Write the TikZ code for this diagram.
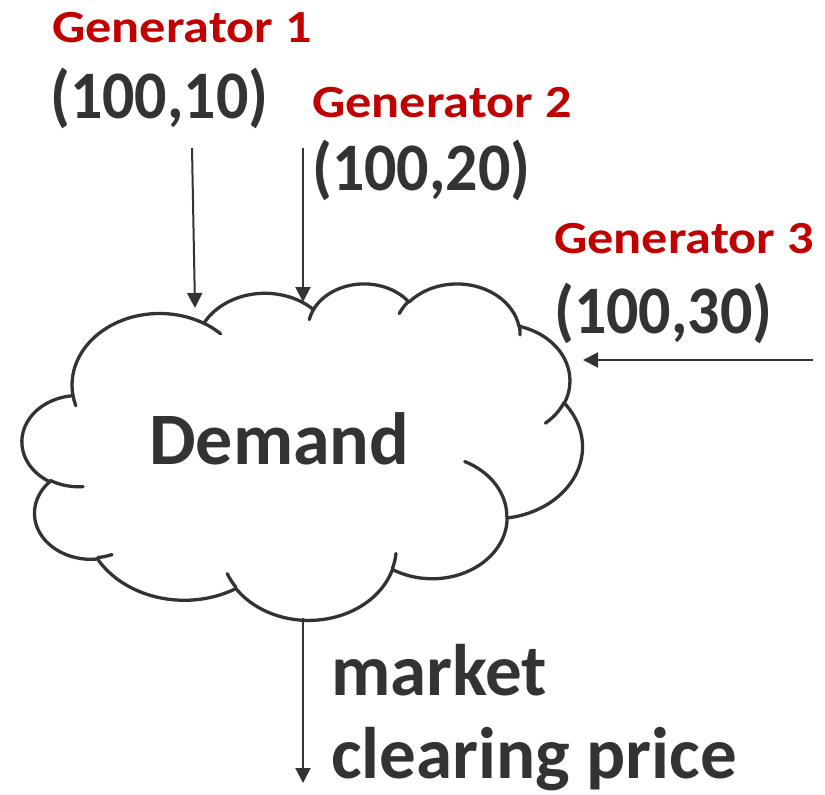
\documentclass[tikz,border=0pt]{standalone}
\usepackage{fontspec}
\usepackage{graphicx}
\setmainfont{Carlito}
\usetikzlibrary{arrows.meta}
\definecolor{genred}{HTML}{C00000}
\definecolor{inkgray}{HTML}{333333}
\pgfmathdeclarefunction{vpar}{3}{%
  \begingroup
  \pgfmathsetmacro\vpK{#2/#3}%
  \pgfmathparse{#1 + atan((\vpK-1)*sin(#1)*cos(#1)/(cos(#1)^2 + \vpK*sin(#1)^2))}%
  \pgfmathsmuggle\pgfmathresult
  \endgroup
}
\newcommand\carc[4]{arc[start angle={vpar(#3,#1,#2)}, end angle={vpar(#3+#4,#1,#2)}, x radius=#1, y radius=#2]}
\tikzset{
  genlabel/.style={anchor=base west, inner sep=0pt, text=genred, font=\fontsize{46}{55}\selectfont\bfseries},
  numlabel/.style={anchor=base west, inner sep=0pt, text=inkgray, font=\fontsize{68}{80}\selectfont\bfseries},
  biglabel/.style={anchor=base west, inner sep=0pt, text=inkgray, font=\fontsize{73}{85}\selectfont\bfseries},
  flow/.style={draw=inkgray, line width=2pt, -{Triangle[length=15pt, width=15pt]}},
  cloudline/.style={draw=inkgray, line width=3.3pt, line join=round}
}
\newcommand\gtxt[1]{\scalebox{1.137}[1]{#1}}
\newcommand\ntxt[1]{\scalebox{0.94}[1]{#1}}
\begin{document}
\begin{tikzpicture}[x=1pt, y=-1pt]
\useasboundingbox (0,0) rectangle (825,795);
% cloud
\begin{scope}[shift={(22.3,282.8)}, x=12.963pt, y=-7.787pt]
\draw[cloudline] (3.900,14.370)
  \carc{6.753}{9.190}{-190.48748}{123.78053}
  \carc{5.333}{7.267}{-144.10238}{89.94523}
  \carc{4.365}{5.945}{-145.80792}{99.72302}
  \carc{4.857}{6.595}{-130.98607}{117.24173}
  \carc{5.333}{7.273}{-78.70888}{109.02692}
  \carc{6.775}{9.220}{-46.26725}{130.269}
  \carc{5.785}{7.867}{0.62502}{114.03333}
  \carc{6.752}{9.215}{22.4516}{115.17255}
  \carc{7.720}{10.543}{66.24263}{75.71102}
  \carc{4.360}{5.918}{-274.94208}{146.73557}
  \carc{4.345}{5.945}{-246.8285}{152.51885}
  -- cycle;
\draw[cloudline, line cap=round]
  (4.693,26.177) \carc{4.345}{5.945}{86.742}{26.4295}
  (6.928,34.899) \carc{4.360}{5.918}{73.61047}{11.44747}
  (16.478,39.090) \carc{6.752}{9.215}{137.62415}{14.0811}
  (28.827,34.751) \carc{6.752}{9.215}{6.45327}{15.99835}
  (34.129,22.954) \carc{5.785}{7.867}{-70.29235}{70.91737}
  (41.798,15.354) \carc{5.333}{7.273}{30.31803}{27.7515}
  (38.324,5.426) \carc{4.857}{6.595}{-13.74433}{14.8589}
  (29.078,3.952) \carc{4.857}{6.595}{-149.18145}{18.19537}
  (22.141,4.720) \carc{4.365}{5.945}{-163.49427}{17.68635}
  (14.000,5.192) \carc{6.753}{9.190}{-66.70695}{12.31935}
  (4.127,15.789) \carc{6.753}{9.190}{157.65435}{11.85817};
\end{scope}
% labels
\node[genlabel] (g1) at (52,42) {\gtxt{Generator 1}};
\node[numlabel] (n1) at (50,118) {\ntxt{(100,10)}};
\node[genlabel] (g2) at (312,117) {\gtxt{Generator 2}};
\node[numlabel] (n2) at (312,190) {\ntxt{(100,20)}};
\node[genlabel] (g3) at (554,253) {\gtxt{Generator 3}};
\node[numlabel] (n3) at (554,333) {\ntxt{(100,30)}};
\node[anchor=base west, inner sep=0pt, text=inkgray, font=\fontsize{74}{88}\selectfont\bfseries] (dem) at (149,464) {Demand};
\node[biglabel] (mk) at (331,695) {market};
\node[biglabel] (cp) at (331,778) {clearing price};
% connector ends
\coordinate (a1s) at (192,148);
\coordinate (a1e) at (195,308);
\coordinate (a2s) at (303,148);
\coordinate (a2e) at (303,302);
\coordinate (a3s) at (813,360);
\coordinate (a3e) at (583,360);
\coordinate (a4s) at (303,618);
\coordinate (a4e) at (303,783);
\draw[flow] (a1s) -- (a1e);
\draw[flow] (a2s) -- (a2e);
\draw[flow] (a3s) -- (a3e);
\draw[flow] (a4s) -- (a4e);
\end{tikzpicture}
\end{document}
